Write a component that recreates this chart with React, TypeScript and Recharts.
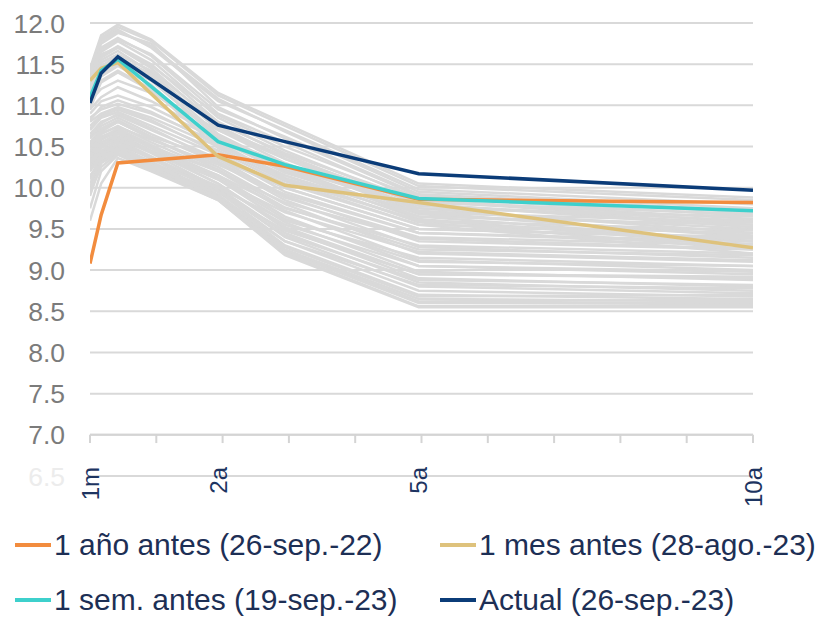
import React from 'react';
import { LineChart, Line, XAxis, YAxis, CartesianGrid, ReferenceLine } from 'recharts';

// Maturities in years
const maturities = [1 / 12, 0.25, 0.5, 1, 2, 3, 5, 10];
const xTickValues = [1 / 12, 2, 5, 10];
const xTickLabels = ['1m', '2a', '5a', '10a'];
const yTicks = [6.5, 7, 7.5, 8, 8.5, 9, 9.5, 10, 10.5, 11, 11.5, 12];

// Highlighted curves (null = no observation at 1a)
const oneYearAgo = [9.08, 9.67, 10.3, null, 10.4, 10.26, 9.86, 9.82];
const oneMonthAgo = [11.3, 11.45, 11.52, null, 10.38, 10.03, 9.82, 9.27];
const oneWeekAgo = [11.1, 11.42, 11.56, null, 10.56, 10.28, 9.87, 9.72];
const current = [11.03, 11.39, 11.59, null, 10.76, 10.56, 10.17, 9.97];

// Historical curves (grey background)
const historicalCurves: number[][] = [
  [11.45, 11.85, 11.98, 11.8, 11.15, 10.78, 10.05, 9.88],
  [11.4, 11.8, 11.92, 11.7, 11.05, 10.7, 9.98, 9.8],
  [11.35, 11.75, 11.88, 11.75, 10.98, 10.6, 9.9, 9.7],
  [11.3, 11.7, 11.82, 11.6, 10.9, 10.55, 9.85, 9.62],
  [11.25, 11.65, 11.78, 11.55, 10.85, 10.45, 9.8, 9.55],
  [11.2, 11.6, 11.72, 11.5, 10.8, 10.4, 9.75, 9.45],
  [11.15, 11.55, 11.66, 11.4, 10.7, 10.3, 9.7, 9.4],
  [11.1, 11.48, 11.6, 11.35, 10.65, 10.25, 9.65, 9.35],
  [11.05, 11.4, 11.55, 11.3, 10.6, 10.2, 9.62, 9.3],
  [11.0, 11.35, 11.48, 11.25, 10.52, 10.15, 9.58, 9.25],
  [11.3, 11.62, 11.7, 11.45, 10.75, 10.35, 9.72, 9.5],
  [11.38, 11.78, 11.9, 11.72, 11.08, 10.68, 9.95, 9.75],
  [10.95, 11.3, 11.42, 11.2, 10.48, 10.08, 9.55, 9.2],
  [11.42, 11.82, 11.95, 11.78, 11.12, 10.75, 10.02, 9.85],
  [11.28, 11.68, 11.8, 11.62, 10.95, 10.62, 9.92, 9.72],
  [11.18, 11.58, 11.7, 11.48, 10.88, 10.5, 9.88, 9.66],
  [11.22, 11.52, 11.62, 11.42, 10.78, 10.42, 9.84, 9.58],
  [11.12, 11.45, 11.58, 11.38, 10.72, 10.38, 9.8, 9.52],
  [11.08, 11.38, 11.5, 11.3, 10.62, 10.22, 9.68, 9.42],
  [10.98, 11.28, 11.4, 11.18, 10.55, 10.12, 9.6, 9.35],
  [11.05, 11.2, 11.3, 11.15, 10.7, 10.35, 9.82, 9.68],
  [10.95, 11.1, 11.22, 11.05, 10.62, 10.28, 9.78, 9.6],
  [10.9, 11.05, 11.12, 10.98, 10.58, 10.18, 9.7, 9.58],
  [10.85, 10.95, 11.02, 10.9, 10.55, 10.25, 9.75, 9.65],
  [10.82, 10.98, 11.06, 10.92, 10.52, 10.1, 9.6, 9.48],
  [10.8, 10.9, 10.98, 10.85, 10.5, 10.15, 9.65, 9.55],
  [10.75, 10.88, 10.95, 10.8, 10.45, 10.05, 9.55, 9.45],
  [10.72, 10.86, 10.96, 10.82, 10.42, 10.0, 9.5, 9.38],
  [10.7, 10.85, 10.92, 10.75, 10.4, 9.95, 9.45, 9.35],
  [10.65, 10.8, 10.88, 10.7, 10.35, 9.9, 9.35, 9.25],
  [10.62, 10.78, 10.9, 10.72, 10.32, 9.88, 9.4, 9.3],
  [10.6, 10.75, 10.85, 10.65, 10.3, 9.85, 9.28, 9.15],
  [10.6, 10.72, 10.82, 10.62, 10.35, 10.0, 9.5, 9.4],
  [10.55, 10.7, 10.8, 10.6, 10.25, 9.8, 9.2, 9.1],
  [10.55, 10.66, 10.74, 10.58, 10.28, 9.92, 9.45, 9.32],
  [10.52, 10.68, 10.8, 10.6, 10.22, 9.76, 9.25, 9.18],
  [10.5, 10.65, 10.75, 10.55, 10.2, 9.72, 9.12, 9.0],
  [10.48, 10.6, 10.66, 10.5, 10.2, 9.82, 9.38, 9.26],
  [10.45, 10.62, 10.7, 10.5, 10.15, 9.65, 9.05, 8.95],
  [10.42, 10.6, 10.72, 10.52, 10.12, 9.62, 9.1, 9.05],
  [10.4, 10.58, 10.68, 10.48, 10.1, 9.58, 8.98, 8.88],
  [10.4, 10.55, 10.62, 10.45, 10.15, 9.75, 9.3, 9.2],
  [10.38, 10.52, 10.6, 10.44, 10.1, 9.7, 9.22, 9.12],
  [10.35, 10.55, 10.65, 10.45, 10.05, 9.5, 8.9, 8.8],
  [10.32, 10.5, 10.62, 10.44, 10.05, 9.52, 8.95, 8.92],
  [10.3, 10.52, 10.6, 10.42, 10.0, 9.45, 8.85, 8.75],
  [10.28, 10.42, 10.52, 10.36, 10.02, 9.55, 9.05, 8.98],
  [10.25, 10.48, 10.58, 10.38, 9.98, 9.4, 8.8, 8.72],
  [10.22, 10.44, 10.56, 10.36, 9.96, 9.42, 8.88, 8.82],
  [10.2, 10.45, 10.55, 10.35, 9.95, 9.35, 8.75, 8.68],
  [10.2, 10.4, 10.5, 10.3, 10.0, 9.6, 9.15, 9.05],
  [10.15, 10.3, 10.42, 10.28, 9.95, 9.48, 8.95, 8.9],
  [10.12, 10.38, 10.5, 10.32, 9.9, 9.35, 8.82, 8.78],
  [10.1, 10.4, 10.52, 10.3, 9.92, 9.3, 8.7, 8.65],
  [10.05, 10.32, 10.46, 10.26, 9.88, 9.28, 8.68, 8.7],
  [10.0, 10.35, 10.48, 10.28, 9.9, 9.25, 8.65, 8.62],
  [9.95, 10.25, 10.42, 10.24, 9.86, 9.24, 8.62, 8.64],
  [9.9, 10.3, 10.45, 10.25, 9.88, 9.22, 8.6, 8.6],
  [9.75, 10.2, 10.4, 10.22, 9.85, 9.2, 8.56, 8.58],
  [9.6, 10.05, 10.36, 10.2, 9.85, 9.18, 8.55, 8.55],
];

const seriesNames = [
  '1 año antes (26-sep.-22)',
  '1 mes antes (28-ago.-23)',
  '1 sem. antes (19-sep.-23)',
  'Actual (26-sep.-23)',
];
const seriesColors = ['#F28C3E', '#DEC27C', '#3ED0CC', '#0B3C78'];
const seriesValues = [oneYearAgo, oneMonthAgo, oneWeekAgo, current];

const data = maturities.map((m, i) => {
  const row: Record<string, number | null> = { m };
  seriesValues.forEach((s, k) => {
    row['s' + k] = s[i];
  });
  historicalCurves.forEach((c, k) => {
    row['h' + k] = c[i];
  });
  return row;
});

// minor tick marks on the horizontal axis (axis construction)
const minorTicks = Array.from({ length: 11 }, (_, k) => 1 / 12 + (k * (10 - 1 / 12)) / 10);

const FONT = "'Liberation Sans', Arial, sans-serif";

const YTick = (props: any) => {
  const { x, y, payload, textAnchor } = props;
  const v = payload.value as number;
  return (
    <text
      x={x}
      y={y}
      dy="0.36em"
      textAnchor={textAnchor}
      fontFamily={FONT}
      fontSize={26.5}
      fill={v === 6.5 ? '#ececec' : '#7b7b7b'}
    >
      {v.toFixed(1)}
    </text>
  );
};

const XTick = (props: any) => {
  const { x, y, payload } = props;
  const idx = xTickValues.findIndex((t) => Math.abs(t - payload.value) < 1e-6);
  const label = idx >= 0 ? xTickLabels[idx] : '';
  return (
    <g transform={`translate(${x},${y - 9}) rotate(-90)`}>
      <text x={0} y={0} dy="0.36em" textAnchor="end" fontFamily={FONT} fontSize={24} fill="#1d3461">
        {label}
      </text>
    </g>
  );
};

const legendRows = [
  [0, 1],
  [2, 3],
];

export default function App() {
  return (
    <div style={{ position: 'absolute', left: 0, top: 0, width: 838, height: 617, background: '#fff', overflow: 'hidden' }}>
      <LineChart width={838} height={520} data={data} margin={{ top: 23, right: 0, left: 0, bottom: 4 }}>
        <CartesianGrid yAxisId="left" vertical={false} stroke="#d9d9d9" strokeWidth={2} />
        <XAxis
          dataKey="m"
          type="number"
          domain={[1 / 12, 10]}
          ticks={xTickValues}
          interval={0}
          axisLine={false}
          tickLine={false}
          tickSize={0}
          tickMargin={0}
          height={40}
          tick={<XTick />}
          allowDataOverflow
        />
        <YAxis
          yAxisId="left"
          domain={[6.5, 12]}
          ticks={yTicks}
          interval={0}
          axisLine={false}
          tickLine={false}
          tickSize={6}
          tickMargin={19}
          width={90}
          tick={<YTick />}
        />
        <YAxis
          yAxisId="right"
          orientation="right"
          domain={[6.5, 12]}
          ticks={yTicks}
          interval={0}
          axisLine={false}
          tickLine={false}
          tickSize={6}
          tickMargin={18}
          width={85}
          tick={<YTick />}
        />
        <ReferenceLine yAxisId="left" y={7} stroke="#d4d4d4" strokeWidth={2} />
        {minorTicks.map((t, k) => (
          <ReferenceLine
            key={'mt' + k}
            yAxisId="left"
            segment={[
              { x: t, y: 7 },
              { x: t, y: 6.9 },
            ]}
            stroke="#d4d4d4"
            strokeWidth={2}
          />
        ))}
        {historicalCurves.map((_, k) => (
          <Line
            key={'h' + k}
            yAxisId="left"
            dataKey={'h' + k}
            type="linear"
            stroke="#d9d9d9"
            strokeWidth={2.5}
            dot={false}
            activeDot={false}
            isAnimationActive={false}
          />
        ))}
        {seriesValues.map((_, k) => (
          <Line
            key={'s' + k}
            yAxisId="left"
            dataKey={'s' + k}
            name={seriesNames[k]}
            type="linear"
            stroke={seriesColors[k]}
            strokeWidth={3.5}
            dot={false}
            activeDot={false}
            connectNulls
            isAnimationActive={false}
          />
        ))}
      </LineChart>
      {legendRows.map((row, r) =>
        row.map((k, c) => (
          <div
            key={'lg' + k}
            style={{
              position: 'absolute',
              left: c === 0 ? 15 : 440,
              top: r === 0 ? 531 : 586,
              height: 28,
              lineHeight: '28px',
              display: 'flex',
              alignItems: 'center',
              fontFamily: FONT,
              fontSize: 30,
              color: '#1d2f55',
              whiteSpace: 'nowrap',
            }}
          >
            <span style={{ display: 'inline-block', width: 36, height: 3.5, background: seriesColors[k], marginRight: 3 }} />
            <span>{seriesNames[k]}</span>
          </div>
        ))
      )}
    </div>
  );
}
